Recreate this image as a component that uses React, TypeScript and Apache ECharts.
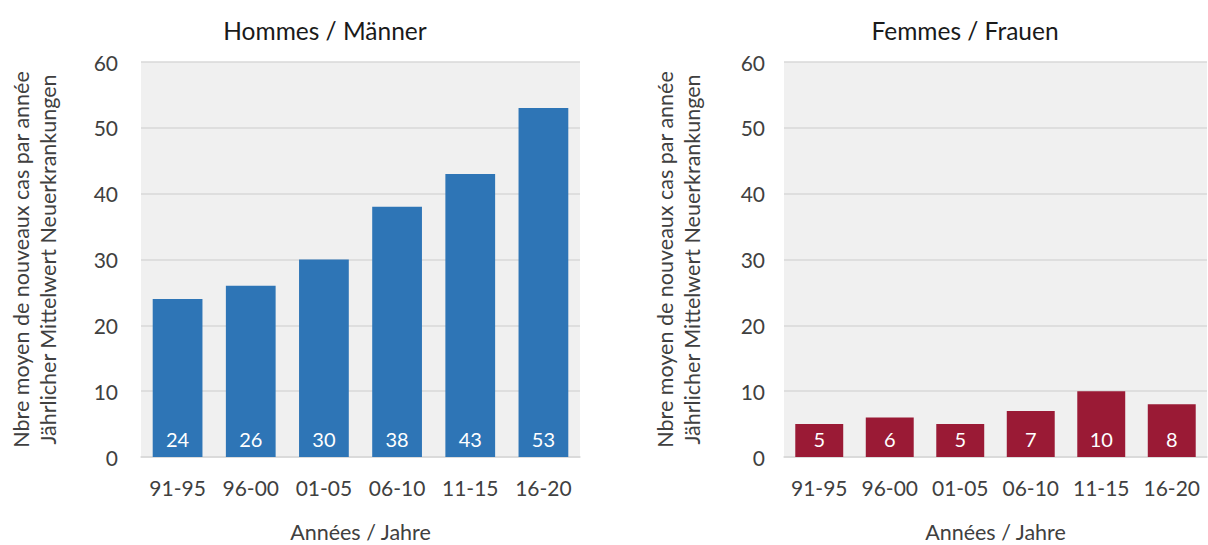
import React, { useEffect, useRef } from "react";
import * as echarts from "echarts";

const categories = ["91-95", "96-00", "01-05", "06-10", "11-15", "16-20"];
const menValues = [24, 26, 30, 38, 43, 53];
const womenValues = [5, 6, 5, 7, 10, 8];
const menTitle = "Hommes / Männer";
const womenTitle = "Femmes / Frauen";
const yAxisName = "Nbre moyen de nouveaux cas par année\nJährlicher Mittelwert Neuerkrankungen";
const xAxisName = "Années / Jahre";

const FONT = "Lato, 'Open Sans', sans-serif";
const TXT = "#404040";

export default function App() {
  const ref = useRef<HTMLDivElement>(null);
  useEffect(() => {
    if (!ref.current) return;
    const chart = echarts.init(ref.current, undefined, { renderer: "svg" });
    const grids = [
      { left: 141, right: 628, top: 62, bottom: 88 },
      { left: 784, right: 1, top: 62, bottom: 88 },
    ];
    const xAxis = grids.map((_, i) => ({
      type: "category",
      gridIndex: i,
      data: categories,
      axisTick: { show: false },
      axisLine: { show: true, lineStyle: { color: "#d9d9d9", width: 1.5 } },
      axisLabel: { color: TXT, fontSize: 21, fontFamily: FONT, margin: 20, interval: 0, hideOverlap: false },
      name: xAxisName,
      nameLocation: "middle",
      nameGap: 64,
      nameTextStyle: { color: TXT, fontSize: 21.5, fontFamily: FONT },
    }));
    const yAxis = grids.map((_, i) => ({
      type: "value",
      gridIndex: i,
      min: 0,
      max: 60,
      interval: 10,
      axisLine: { show: false },
      axisTick: { show: false },
      splitLine: { lineStyle: { color: "#d9d9d9", width: 1.5 } },
      axisLabel: { color: TXT, fontSize: 21, fontFamily: FONT, margin: i === 0 ? 23 : 19 },
      name: yAxisName,
      nameLocation: "middle",
      nameGap: i === 0 ? 80 : 79,
      nameTextStyle: { color: TXT, fontSize: 21.5, fontFamily: FONT, lineHeight: 27 },
    }));
    const makeSeries = (data: number[], idx: number, color: string) => ({
      type: "bar",
      xAxisIndex: idx,
      yAxisIndex: idx,
      data,
      barWidth: "68%",
      itemStyle: { color },
      label: {
        show: true,
        position: "insideBottom",
        distance: 8,
        color: "#ffffff",
        fontSize: 20,
        fontFamily: FONT,
      },
    });
    chart.setOption({
      animation: false,
      backgroundColor: "#ffffff",
      title: [
        {
          text: menTitle,
          left: 320,
          top: 13,
          textAlign: "center",
          textStyle: { color: "#1a1a1a", fontSize: 24.5, fontWeight: "normal", fontFamily: FONT },
        },
        {
          text: womenTitle,
          left: 960,
          top: 13,
          textAlign: "center",
          textStyle: { color: "#1a1a1a", fontSize: 24.5, fontWeight: "normal", fontFamily: FONT },
        },
      ],
      grid: grids.map((g) => ({
        ...g,
        show: true,
        backgroundColor: "#f0f0f0",
        borderWidth: 0,
        containLabel: false,
        outerBoundsMode: "none",
      })),
      xAxis,
      yAxis,
      series: [makeSeries(menValues, 0, "#2e75b6"), makeSeries(womenValues, 1, "#9a1a35")],
    });
    return () => chart.dispose();
  }, []);
  return (
    <div
      ref={ref}
      style={{ position: "fixed", left: 0, top: 0, width: 1208, height: 545, background: "#fff" }}
    />
  );
}
